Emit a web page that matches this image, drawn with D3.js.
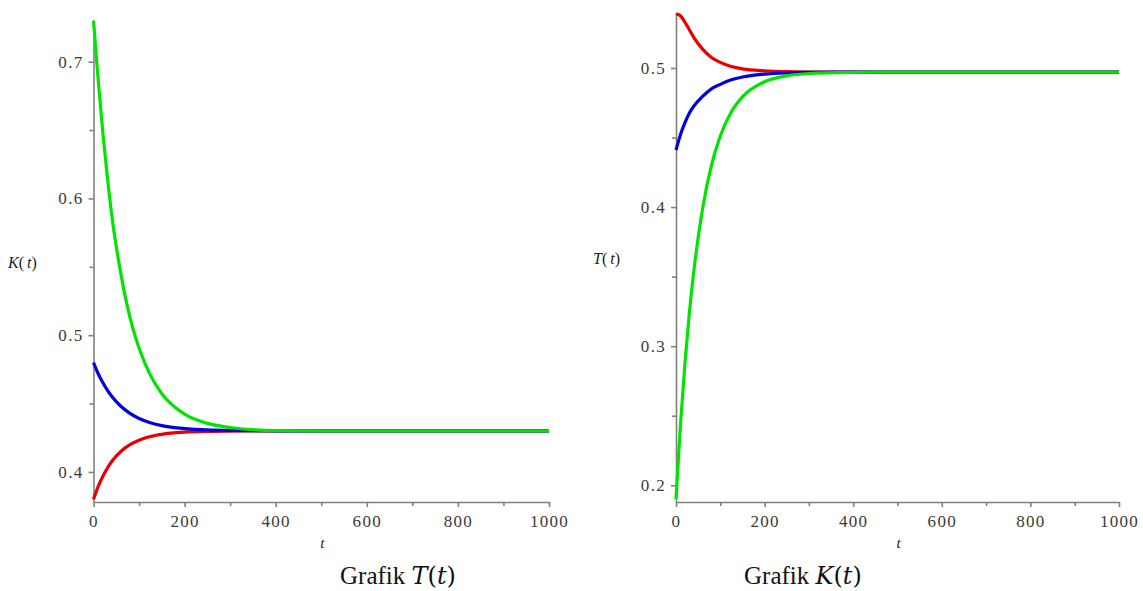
<!DOCTYPE html>
<html>
<head>
<meta charset="utf-8">
<script src="https://cdn.jsdelivr.net/npm/d3@7"></script>
<style>
  body { margin: 0; background: #fff; }
  svg { display: block; }
  .axis path, .axis line { stroke: #808080; stroke-width: 1.6; }
  .axis text { font-family: 'Liberation Serif', serif; font-size: 17px; letter-spacing: 1.3px; fill: #3a3a3a; }
  .lbl { font-family: 'Liberation Serif', serif; font-style: italic; fill: #222; }
  .caption { font-family: 'Liberation Serif', serif; font-size: 25px; fill: #111; }
  .math { font-family: 'DejaVu Serif', serif; font-size: 24px; }
</style>
</head>
<body>
<svg width="1143" height="591"></svg>
<script>
// sample times (t)
const tValues = [0, 10, 20, 30, 40, 60, 80, 100, 125, 150, 200, 250, 300, 400, 500, 600, 700, 800, 900, 1000];

// left panel: K(t)  (caption "Grafik T(t)")
const leftRed   = [0.380, 0.389, 0.3965, 0.4025, 0.4076, 0.4149, 0.4199, 0.4232, 0.4259, 0.4275, 0.4291, 0.4297, 0.4299, 0.430, 0.430, 0.430, 0.430, 0.430, 0.430, 0.430];
const leftBlue  = [0.480, 0.472, 0.4656, 0.460, 0.4553, 0.4480, 0.4428, 0.4391, 0.4360, 0.4339, 0.4317, 0.4307, 0.4303, 0.430, 0.430, 0.430, 0.430, 0.430, 0.430, 0.430];
const leftGreen = [0.730, 0.688, 0.650, 0.617, 0.588, 0.545, 0.513, 0.4906, 0.4706, 0.4572, 0.4422, 0.4355, 0.4325, 0.4302, 0.430, 0.430, 0.430, 0.430, 0.430, 0.430];

// right panel: T(t)  (caption "Grafik K(t)")
const rightRed   = [0.539, 0.5375, 0.533, 0.5275, 0.522, 0.5135, 0.5075, 0.5040, 0.5010, 0.4993, 0.4979, 0.4973, 0.4971, 0.497, 0.497, 0.497, 0.497, 0.497, 0.497, 0.497];
const rightBlue  = [0.441, 0.452, 0.4605, 0.4675, 0.4725, 0.4795, 0.4850, 0.4882, 0.4915, 0.4935, 0.4955, 0.4964, 0.4968, 0.497, 0.497, 0.497, 0.497, 0.497, 0.497, 0.497];
const rightGreen = [0.190, 0.243, 0.287, 0.3234, 0.3534, 0.3988, 0.4299, 0.4511, 0.4685, 0.4792, 0.4901, 0.4943, 0.496, 0.4968, 0.497, 0.497, 0.497, 0.497, 0.497, 0.497];

const xTicks = [0, 200, 400, 600, 800, 1000];
const xMinor = [100, 300, 500, 700, 900];
const leftYTicks = [0.4, 0.5, 0.6, 0.7];
const leftYMinor = [0.45, 0.55, 0.65];
const rightYTicks = [0.2, 0.3, 0.4, 0.5];
const rightYMinor = [0.25, 0.35, 0.45];

const colors = ['#e80000', '#0000dd', '#00e400'];

const svg = d3.select('svg');

function drawPanel(p) {
  const x = d3.scaleLinear().domain([0, 1000]).range([p.x0, p.x1]);
  const y = d3.scaleLinear().domain(p.yDomain).range([p.y0, p.y1]);
  const g = svg.append('g');

  g.append('g').attr('class', 'axis')
    .attr('transform', `translate(0,${p.y0})`)
    .call(d3.axisBottom(x).tickValues(xTicks).tickSize(5).tickSizeOuter(0).tickPadding(8).tickFormat(d3.format('d')));
  g.append('g').attr('class', 'axis')
    .attr('transform', `translate(0,${p.y0})`)
    .call(d3.axisBottom(x).tickValues(xMinor).tickSize(4).tickSizeOuter(0).tickFormat(''))
    .select('.domain').remove();

  g.append('g').attr('class', 'axis')
    .attr('transform', `translate(${p.x0},0)`)
    .call(d3.axisLeft(y).tickValues(p.yTicks).tickSize(5).tickSizeOuter(0).tickPadding(5).tickFormat(d3.format('.1f')));
  g.append('g').attr('class', 'axis')
    .attr('transform', `translate(${p.x0},0)`)
    .call(d3.axisLeft(y).tickValues(p.yMinor).tickSize(4).tickSizeOuter(0).tickFormat(''))
    .select('.domain').remove();

  const line = d3.line()
    .x((d, i) => x(tValues[i]))
    .y(d => y(d))
    .curve(d3.curveMonotoneX);

  p.series.forEach((s, i) => {
    g.append('path')
      .datum(s)
      .attr('fill', 'none')
      .attr('stroke', colors[i])
      .attr('stroke-width', 3.2)
      .attr('stroke-linejoin', 'round')
      .attr('d', line);
  });

  // axis labels
  g.append('text').attr('class', 'lbl')
    .attr('x', (p.x0 + p.x1) / 2 + 1).attr('y', p.y0 + 46)
    .attr('text-anchor', 'middle').attr('font-size', 15).text('t');
  const yl = g.append('text').attr('class', 'lbl')
    .attr('x', p.yLabelX).attr('y', p.yLabelY).attr('font-size', 16);
  yl.append('tspan').text(p.yName);
  yl.append('tspan').attr('font-style', 'normal').text('(');
  yl.append('tspan').attr('dx', 3).text('t');
  yl.append('tspan').attr('font-style', 'normal').text(')');

  // caption
  const c = g.append('text').attr('class', 'caption')
    .attr('x', p.capX).attr('y', 584);
  c.append('tspan').text('Grafik ');
  c.append('tspan').attr('class', 'math').attr('font-style', 'italic').text(p.capName);
  c.append('tspan').attr('class', 'math').text('(');
  c.append('tspan').attr('class', 'math').attr('font-style', 'italic').text('t');
  c.append('tspan').attr('class', 'math').text(')');
}

drawPanel({
  x0: 93.5, x1: 549, y0: 502, y1: 20,
  yDomain: [0.378, 0.7305],
  yTicks: leftYTicks, yMinor: leftYMinor,
  series: [leftRed, leftBlue, leftGreen],
  yName: 'K', yLabelX: 8, yLabelY: 268,
  capName: 'T', capX: 340
});

drawPanel({
  x0: 676, x1: 1119, y0: 502, y1: 13,
  yDomain: [0.188, 0.5395],
  yTicks: rightYTicks, yMinor: rightYMinor,
  series: [rightRed, rightBlue, rightGreen],
  yName: 'T', yLabelX: 593, yLabelY: 264,
  capName: 'K', capX: 744
});
</script>
</body>
</html>
